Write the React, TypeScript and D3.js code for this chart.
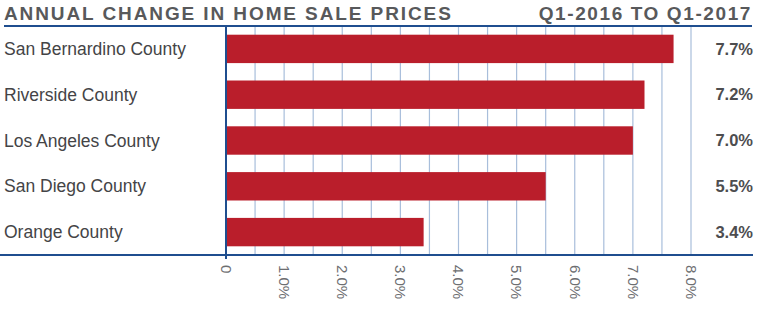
import React from "react";
import * as d3 from "d3";

const categories = ["San Bernardino County", "Riverside County", "Los Angeles County", "San Diego County", "Orange County"];
const values = [7.7, 7.2, 7.0, 5.5, 3.4];
const valueLabels = ["7.7%", "7.2%", "7.0%", "5.5%", "3.4%"];
const tickValues = [0, 1, 2, 3, 4, 5, 6, 7, 8];
const tickLabels = ["0", "1.0%", "2.0%", "3.0%", "4.0%", "5.0%", "6.0%", "7.0%", "8.0%"];
const gridValues = [0.5, 1, 1.5, 2, 2.5, 3, 3.5, 4, 4.5, 5, 5.5, 6, 6.5, 7, 7.5, 8];
const title = "ANNUAL CHANGE IN HOME SALE PRICES";
const subtitle = "Q1-2016 TO Q1-2017";

const W = 760, H = 314;
const RED = "#BA1E2B";
const BLUE = "#1F4E8F";
const GRID = "#A8BEDB";
const FONT = "'Liberation Sans', Arial, sans-serif";

export default function App() {
  const x = d3.scaleLinear().domain([0, 8]).range([226, 691]);
  const y = d3.scaleBand().domain(categories).range([26, 255]).paddingInner(0.38).paddingOuter(0.19);
  const top = 26, bottom = 255;
  return (
    <svg width={W} height={H} style={{ position: "absolute", left: 0, top: 0 }} fontFamily={FONT}>
      <rect width={W} height={H} fill="#fff" />
      <text x={4} y={20} fontSize={19} fontWeight="bold" fill="#58595B" letterSpacing={1.9}>{title}</text>
      <text x={752} y={20} fontSize={19} fontWeight="bold" fill="#58595B" letterSpacing={1.6} textAnchor="end">{subtitle}</text>
      {gridValues.map((g) => (
        <line key={g} x1={x(g)} x2={x(g)} y1={top} y2={bottom} stroke={GRID} strokeWidth={1.2} />
      ))}
      {categories.map((c, i) => (
        <rect key={c} x={x(0)} y={y(c)!} width={x(values[i]) - x(0)} height={y.bandwidth()} fill={RED} />
      ))}
      <line x1={4} x2={752} y1={top} y2={top} stroke={BLUE} strokeWidth={2} />
      <line x1={0} x2={753} y1={bottom} y2={bottom} stroke={BLUE} strokeWidth={2} />
      <line x1={x(0)} x2={x(0)} y1={top} y2={bottom + 4} stroke={BLUE} strokeWidth={2} />
      {categories.map((c) => (
        <text key={c} x={4} y={y(c)! + y.bandwidth() / 2} dy="0.35em" fontSize={17.5} fill="#444446">{c}</text>
      ))}
      {categories.map((c, i) => (
        <text key={c} x={753} y={y(c)! + y.bandwidth() / 2} dy="0.35em" fontSize={16.5} fontWeight="bold" fill="#4D4D4F" textAnchor="end">{valueLabels[i]}</text>
      ))}
      {tickValues.map((t, i) => (
        <text key={t} transform={`translate(${x(t)},${265}) rotate(90)`} dy="0.35em" fontSize={15} fill="#6D6E71">{tickLabels[i]}</text>
      ))}
    </svg>
  );
}
